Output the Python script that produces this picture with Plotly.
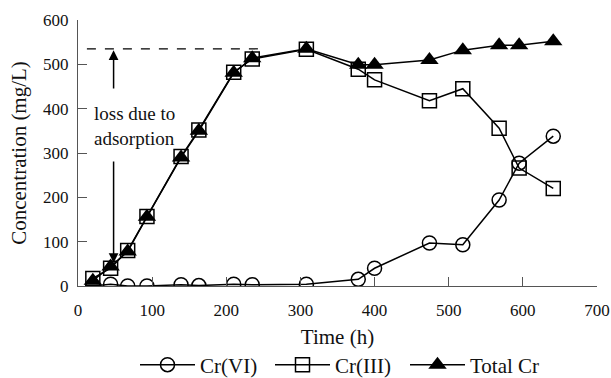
import plotly.graph_objects as go

time_h = [20, 44, 67, 93, 139, 163, 210, 235, 308, 378, 400, 474, 519, 568, 595, 641]
cr6 = [0, 4, 0, 0, 3, 1, 4, 3, 4, 15, 40, 97, 93, 194, 277, 338]
cr3 = [17, 40, 80, 157, 292, 352, 482, 512, 534, 489, 465, 418, 445, 356, 266, 220]
total_cr = [12, 44, 78, 156, 290, 350, 481, 514, 535, 499, 499, 510, 532, 543, 543, 552]

x_ticks = [0, 100, 200, 300, 400, 500, 600, 700]
y_ticks = [0, 100, 200, 300, 400, 500, 600]

# annotation settings
ref_level = 535          # dashed reference level (max total Cr)
dash_x = [12, 243]
arrow_x = 48
arrow_up_from = 442
arrow_down_to = 52
arrow_down_from = 284
note_text = "loss due to<br>adsorption"
note_x = 19
note_y = 362

FONT = "Liberation Serif"

fig = go.Figure()
fig.add_trace(go.Scatter(
    x=time_h, y=cr6, name="Cr(VI)", mode="lines+markers",
    line=dict(color="black", width=1.5),
    marker=dict(symbol="circle-open", size=14, color="black", line=dict(width=1.5)),
))
fig.add_trace(go.Scatter(
    x=time_h, y=cr3, name="Cr(III)", mode="lines+markers",
    line=dict(color="black", width=1.5),
    marker=dict(symbol="square-open", size=14, color="black", line=dict(width=1.5)),
))
fig.add_trace(go.Scatter(
    x=time_h, y=total_cr, name="Total Cr", mode="lines+markers",
    line=dict(color="black", width=1.5),
    marker=dict(symbol="triangle-up", size=16, color="black"),
))

# dashed reference line
fig.add_shape(type="line", x0=dash_x[0], x1=dash_x[1], y0=ref_level, y1=ref_level,
              line=dict(color="black", width=1.2, dash="dash"), layer="below")
# up arrow
fig.add_annotation(x=arrow_x, y=ref_level - 3, ax=arrow_x, ay=arrow_up_from,
                   xref="x", yref="y", axref="x", ayref="y", text="",
                   showarrow=True, arrowhead=2, arrowsize=1.3, arrowwidth=1.5, arrowcolor="black")
# down arrow
fig.add_annotation(x=arrow_x, y=arrow_down_to, ax=arrow_x, ay=arrow_down_from,
                   xref="x", yref="y", axref="x", ayref="y", text="",
                   showarrow=True, arrowhead=2, arrowsize=1.3, arrowwidth=1.5, arrowcolor="black")
fig.add_annotation(x=note_x, y=note_y, xref="x", yref="y", text=note_text,
                   showarrow=False, xanchor="left", yanchor="middle", align="left",
                   font=dict(family=FONT, size=19, color="#111"))

axis_common = dict(
    showline=True, linecolor="#555", linewidth=1.2, ticks="inside", ticklen=9,
    tickcolor="#555", tickwidth=1.2, showgrid=False, zeroline=False, automargin=False,
    tickfont=dict(family=FONT, size=17, color="#111"),
)
fig.update_xaxes(range=[0, 700], tickvals=x_ticks, ticklabelstandoff=8,
                 title=dict(text="Time (h)", font=dict(family=FONT, size=21, color="#111"), standoff=10),
                 **axis_common)
fig.update_yaxes(range=[0, 600], tickvals=y_ticks, ticklabelstandoff=5,
                 title=dict(text="Concentration (mg/L)", font=dict(family=FONT, size=21, color="#111"), standoff=10),
                 **axis_common)

fig.update_layout(
    width=611, height=378,
    font=dict(family=FONT, color="#111"),
    margin=dict(l=78, r=14, t=20, b=92, autoexpand=False),
    plot_bgcolor="white", paper_bgcolor="white",
    showlegend=True,
    legend=dict(orientation="h", x=0.5, xanchor="center", y=-0.297, yanchor="middle",
                font=dict(family=FONT, size=21, color="#111"), itemwidth=55,
                entrywidth=65, entrywidthmode="pixels",
                bgcolor="rgba(0,0,0,0)"),
)

# remove the default 8px page margin so the 611x378 figure fills the window exactly
fig.write_html("out.html", config={"displayModeBar": False},
               post_script="document.body.style.margin='0';document.body.style.overflow='hidden';")
